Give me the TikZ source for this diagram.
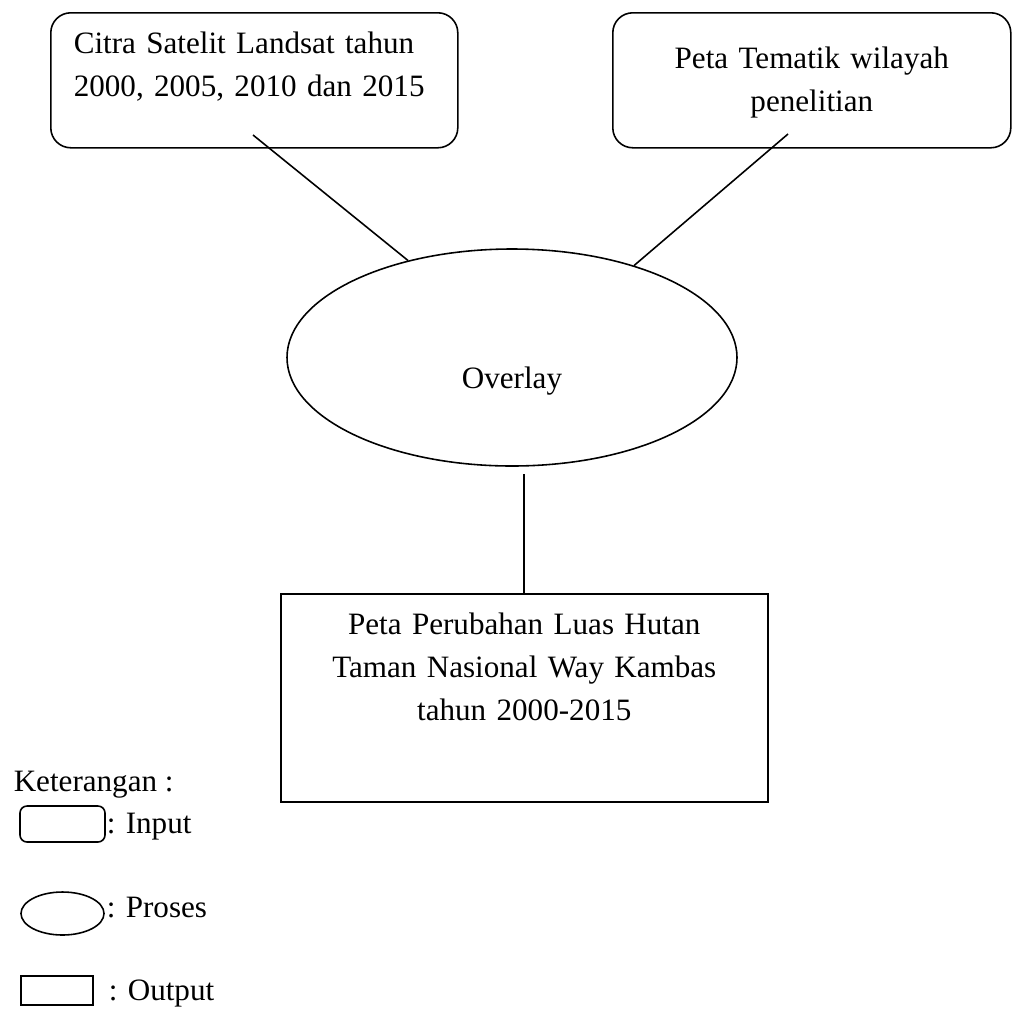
\documentclass[tikz,border=0pt]{standalone}
\usepackage{fontspec}
\setmainfont{Liberation Serif}
\usepackage{tikz}
\usetikzlibrary{shapes.geometric, positioning, calc}

\begin{document}
\begin{tikzpicture}[
    font=\fontsize{17.7pt}{24.5pt}\selectfont,
    line width=0.9pt,
    inputbox/.style={draw, rectangle, rounded corners=0.4cm, inner xsep=0.46cm, inner ysep=0.2cm, anchor=north west},
    prosesnode/.style={draw, ellipse, inner sep=0pt, minimum width=9cm, minimum height=4.34cm},
    outputbox/.style={draw, rectangle, inner xsep=0.46cm, inner ysep=0.2cm, anchor=north west, align=center},
    legtext/.style={anchor=base west, inner sep=0pt},
    link/.style={draw}
  ]
    \useasboundingbox (0,0) rectangle (20.24,-20.2);

    % Nodes
    \node[inputbox, text width=7.22cm, text height=0.62cm, text depth=1.68cm, align=left] (citra) at (1.0,-0.24) {
      Citra Satelit Landsat tahun\\
      2000, 2005, 2010 dan 2015
    };

    \node[inputbox, text width=7.04cm, text height=0.92cm, text depth=1.38cm, align=center] (tematik) at (12.24,-0.24) {
      Peta Tematik wilayah\\
      penelitian
    };

    \node[prosesnode] (overlay) at (10.24,-7.15) {\smash{\raisebox{-0.61cm}{Overlay}}};

    \node[outputbox, text width=8.82cm, text height=0.62cm, text depth=3.14cm] (hasil) at (5.6,-11.86) {
      Peta Perubahan Luas Hutan\\
      Taman Nasional Way Kambas\\
      tahun 2000-2015
    };

    % Connections
    \coordinate (citra-end) at (5.06,-2.7);
    \coordinate (tematik-end) at (15.76,-2.68);
    \coordinate (overlay-end) at (10.48,-9.48);
    \draw[link] (citra-end) -- (overlay.137);
    \draw[link] (tematik-end) -- (overlay.37);
    \draw[link] (overlay-end) -- (overlay-end |- hasil.north);

    % Legend
    \node[legtext] (ket) at (0.26,-15.82) {Keterangan :};
    \node[draw, rectangle, rounded corners=0.14cm, minimum width=1.7cm, minimum height=0.72cm, inner sep=0pt] (leginput) at (1.25,-16.48) {};
    \node[legtext] (txtinput) at (2.12,-16.66) {: Input};
    \node[draw, ellipse, minimum width=1.66cm, minimum height=0.86cm, inner sep=0pt] (legproses) at (1.25,-18.27) {};
    \node[legtext] (txtproses) at (2.12,-18.34) {: Proses};
    \node[draw, rectangle, minimum width=1.44cm, minimum height=0.58cm, inner sep=0pt] (legoutput) at (1.14,-19.81) {};
    \node[legtext] (txtoutput) at (2.16,-20.0) {: Output};

  \end{tikzpicture}
\end{document}
